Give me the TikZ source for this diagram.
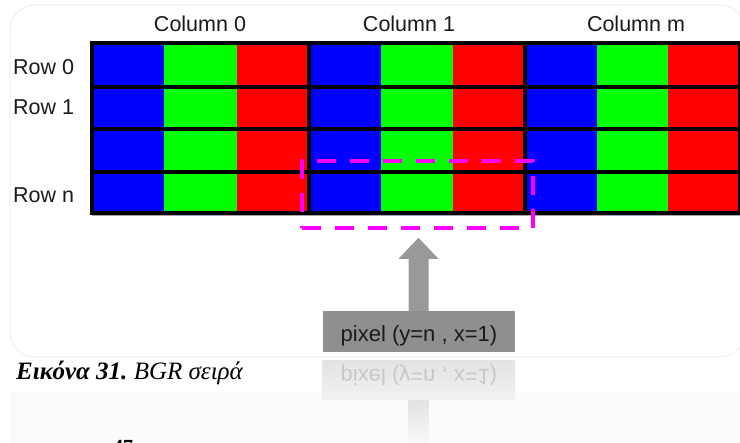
\documentclass[tikz,border=0pt]{standalone}
\usepackage{fontspec}
\setmainfont{Liberation Serif}
\newfontfamily\arialfont{Liberation Sans}
\usetikzlibrary{calc}

\definecolor{pxblue}{HTML}{0000FF}
\definecolor{pxgreen}{HTML}{00FF00}
\definecolor{pxred}{HTML}{FF0000}
\definecolor{selmagenta}{HTML}{FF00FF}
\definecolor{arrowgray}{HTML}{999999}
\definecolor{boxgray}{HTML}{8F8F8F}
\definecolor{labelink}{HTML}{1A1A1A}
\definecolor{panelrim}{HTML}{EEEEEE}

\tikzset{
  lbl/.style={font=\arialfont\fontsize{21.5}{25}\selectfont, text=labelink, inner sep=0},
  gridline/.style={line width=3.2pt, black},
  gridframe/.style={line width=4pt, black},
  selbox/.style={draw=selmagenta, line width=4pt, dash pattern=on 19pt off 14pt,
                 minimum width=231pt, minimum height=67pt, inner sep=0},
  pixbox/.style={fill=boxgray, minimum width=192pt, minimum height=41pt, inner sep=0},
  mirrorbox/.style={top color=black!11, bottom color=black!5, draw=none,
                    minimum width=192pt, minimum height=39pt, inner sep=0},
  mirrorshaft/.style={top color=black!11, bottom color=black!2, draw=none,
                    minimum width=20pt, minimum height=43pt, inner sep=0},
}

\begin{document}
\begin{tikzpicture}[x=1pt, y=-1pt]
\useasboundingbox (0,0) rectangle (740,443);
\clip (0,0) rectangle (740,443);

% panel behind the diagram and its faint reflection band
\fill[black!1.5] (10,392) rectangle (743,443);
\draw[panelrim, line width=1pt, rounded corners=25pt] (10,5) rectangle (745,357);

% pixel cells: B, G, R in each column
\foreach \a/\b in {92/309,309/525,525/740}{
  \pgfmathsetmacro\w{(\b-\a)/3}
  \fill[pxblue]  (\a,43) rectangle ({\a+\w},213);
  \fill[pxgreen] ({\a+\w},43) rectangle ({\a+2*\w},213);
  \fill[pxred]   ({\a+2*\w},43) rectangle (\b,213);
}
% row and column separators
\foreach \y in {87,129,172}
  \draw[gridline] (92,\y) -- (740,\y);
\foreach \x in {309,525}
  \draw[gridline] (\x,43) -- (\x,213);
\draw[black!35, line width=1pt] (92,215.5) -- (740,215.5);
\draw[gridframe] (92,43) rectangle (740,213);

% column and row labels
\node[lbl, anchor=base] (c0) at (200,32) {Column 0};
\node[lbl, anchor=base] (c1) at (409,32) {Column 1};
\node[lbl, anchor=base] (cm) at (636,32) {Column m};
\node[lbl, anchor=base west] (r0) at (13,75) {Row 0};
\node[lbl, anchor=base west] (r1) at (13,115) {Row 1};
\node[lbl, anchor=base west] (rn) at (13,203) {Row n};

% selected pixel
\node[selbox] (sel) at (417.5,194.5) {};

% pointer box with its block arrow
\node[pixbox] (px) at (418.5,331.5) {};
\node[lbl, anchor=base, font=\arialfont\fontsize{22}{26}\selectfont] (pxtext) at (419,342) {pixel (y=n , x=1)};
\fill[arrowgray]
  ($(px.north)+(-10,0)$) -- ($(px.north)+(-10,-52)$) -- ($(px.north)+(-20,-52)$)
  -- ($(px.north)+(0,-73)$)
  -- ($(px.north)+(20,-52)$) -- ($(px.north)+(10,-52)$) -- ($(px.north)+(10,0)$) -- cycle;

% mirrored reflection under the pointer box
\node[mirrorbox] (pxm) at (418.5,380.5) {};
\node[lbl, text=black!22, anchor=center, font=\arialfont\fontsize{22}{26}\selectfont] (pxmtext) at (419,375)
  {\scalebox{1}[-1]{pixel (y=n , x=1)}};
\node[mirrorshaft, anchor=north] (shaftm) at (pxm.south) {};

% caption and page number
\node[anchor=base west, inner sep=0] (cap) at (16,380)
  {\fontsize{25}{29}\selectfont\bfseries\itshape Εικόνα 31.\ \mdseries BGR σειρά};
\node[anchor=base west, inner sep=0] (pg) at (113,454)
  {\fontsize{20}{24}\selectfont\bfseries 47};
\end{tikzpicture}
\end{document}
